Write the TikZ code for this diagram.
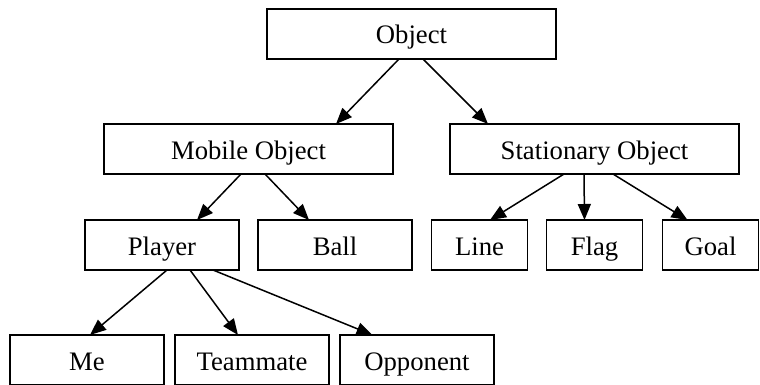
\documentclass[tikz,border=0pt]{standalone}
\usepackage{fontspec}
\setmainfont{Liberation Serif}
\usetikzlibrary{positioning,calc,arrows.meta}
\begin{document}
\begin{tikzpicture}[
    x = 0.5pt, y = -0.5pt,
    cls/.style = {draw, line width=0.75pt, inner sep=0pt, outer sep=0pt,
                  minimum height=25pt, text height=12pt, text depth=2pt,
                  font=\fontsize{13.35}{16}\selectfont},
    big/.style = {cls, minimum width=144.5pt},
    mid/.style = {cls, minimum width=77pt},
    small/.style = {cls, minimum width=48pt},
    isa/.style = {draw, line width=0.75pt, -{Triangle[length=8pt,width=6.5pt]}},
  ]
  \useasboundingbox (0,0) rectangle (760,385);
  \node[big] (obj) at (411.5,34) {Object};
  \node[big] (mobile) at (248.5,149) {Mobile Object};
  \node[big, right=28.5pt of mobile] (stationary) {Stationary Object};
  \node[mid] (player) at (162,245) {Player};
  \node[mid, right=9.5pt of player] (ball) {Ball};
  \node[small] (line) at (479.5,245) {Line};
  \node[small, right=9.5pt of line] (flag) {Flag};
  \node[small, right=10pt of flag] (goal) {Goal};
  \node[mid] (me) at (87,360) {Me};
  \node[mid, right=5.5pt of me] (mate) {Teammate};
  \node[mid, right=5.5pt of mate] (opp) {Opponent};
  % parent/offset/child/offset
  \foreach \p/\a/\c/\b in {obj/-12.5/mobile/87.5, obj/11.5/stationary/-106.5,
      mobile/-7.5/player/35, mobile/16.5/ball/-26,
      stationary/-30.5/line/10.5, stationary/-10.5/flag/-10, stationary/18.5/goal/-23,
      player/5/me/3, player/28/mate/-14, player/51/opp/-44.5}
    \draw[isa] ($(\p.south)+(\a,0)$) -- ($(\c.north)+(\b,0)$);
\end{tikzpicture}
\end{document}
